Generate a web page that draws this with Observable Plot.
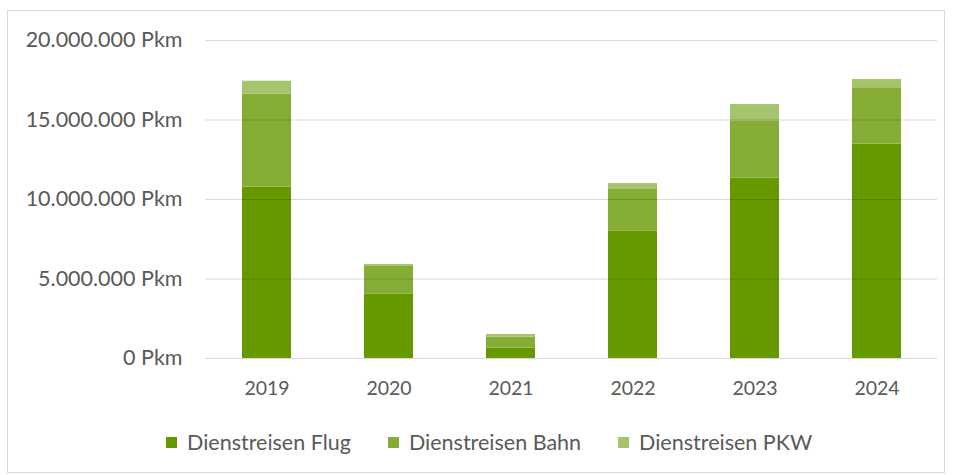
<!DOCTYPE html>
<html>
<head>
<meta charset="utf-8">
<script src="https://cdn.jsdelivr.net/npm/d3@7"></script>
<script src="https://cdn.jsdelivr.net/npm/@observablehq/plot@0.6"></script>
<style>
  html, body { margin: 0; padding: 0; background: #fff; }
  #wrap { position: relative; width: 954px; height: 475px; overflow: hidden; font-family: Lato, "Open Sans", sans-serif; }
  #frame { position: absolute; left: 7px; top: 10px; width: 938px; height: 463px; border: 1px solid #d9d9d9; box-sizing: border-box; }
  #chart { position: absolute; left: 0; top: 0; }
  #legend { position: absolute; left: 166px; top: 429px; display: flex; align-items: center; gap: 37px; color: #595959; font-size: 21.5px; }
  .item { display: flex; align-items: center; gap: 10px; white-space: nowrap; }
  .sw { width: 11px; height: 11px; display: inline-block; }
</style>
</head>
<body>
<div id="wrap">
  <div id="frame"></div>
  <div id="chart"></div>
  <div id="legend"></div>
</div>
<script>
const years = ["2019", "2020", "2021", "2022", "2023", "2024"];
const seriesNames = ["Dienstreisen Flug", "Dienstreisen Bahn", "Dienstreisen PKW"];
const flug = [10770000, 4040000, 650000, 8030000, 11340000, 13480000];
const bahn = [5850000, 1750000, 690000, 2600000, 3610000, 3550000];
const pkw  = [820000, 120000, 170000, 370000, 1020000, 520000];
const colors = ["#669900", "#85ad35", "#a5c46b"];
const yTicks = [0, 5000000, 10000000, 15000000, 20000000];

const seriesValues = [flug, bahn, pkw];
const data = [];
seriesNames.forEach((s, si) => {
  years.forEach((y, i) => data.push({year: y, series: s, value: seriesValues[si][i]}));
});

const locale = d3.formatLocale({decimal: ",", thousands: ".", grouping: [3], currency: ["", " €"]});
const fmt = d => locale.format(",")(d) + " Pkm";

const chart = Plot.plot({
  width: 954,
  height: 415,
  marginTop: 40,
  marginBottom: 57,
  marginLeft: 205,
  marginRight: 17,
  style: {fontFamily: "Lato, 'Open Sans', sans-serif", fontSize: "19px", color: "#595959", background: "transparent", overflow: "visible"},
  x: {domain: years, paddingInner: 0.6, paddingOuter: 0.3, label: null},
  y: {domain: [0, 20000000], label: null},
  color: {domain: seriesNames, range: colors},
  marks: [
    Plot.barY(data, Plot.stackY({x: "year", y: "value", fill: "series", order: null})),
    Plot.ruleY(yTicks, {stroke: "#000", strokeOpacity: 0.15, strokeWidth: 1}),
    Plot.axisY({ticks: yTicks, tickSize: 0, tickPadding: 23, tickFormat: fmt, fill: "#595959", fontSize: 21.5, label: null}),
    Plot.axisX({tickSize: 0, tickPadding: 23, fill: "#595959", fontSize: 19.5, label: null})
  ]
});
document.getElementById("chart").appendChild(chart);

const legend = document.getElementById("legend");
seriesNames.forEach((s, i) => {
  const item = document.createElement("div");
  item.className = "item";
  const sw = document.createElement("span");
  sw.className = "sw";
  sw.style.background = colors[i];
  const t = document.createElement("span");
  t.textContent = s;
  item.appendChild(sw);
  item.appendChild(t);
  legend.appendChild(item);
});
</script>
</body>
</html>
